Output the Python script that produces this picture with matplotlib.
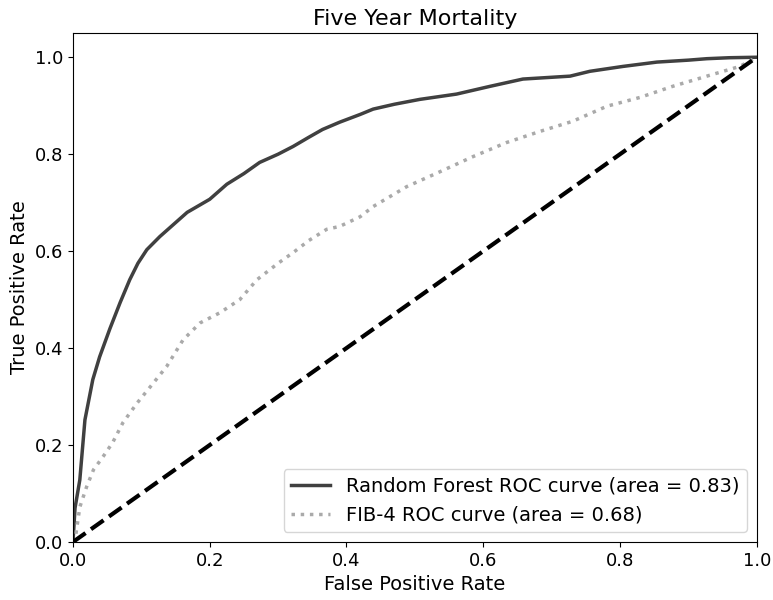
import numpy as np
import matplotlib
matplotlib.use("Agg")
import matplotlib.pyplot as plt

# ROC 曲線資料
rf_fpr = [0.0, 0.003, 0.01, 0.0175, 0.029, 0.039, 0.054, 0.069, 0.083, 0.095, 0.108,
          0.127, 0.147, 0.167, 0.2, 0.225, 0.25, 0.273, 0.3, 0.322, 0.345, 0.365,
          0.39, 0.42, 0.439, 0.47, 0.507, 0.561, 0.61, 0.658, 0.727, 0.756, 0.804,
          0.854, 0.9, 0.927, 0.96, 1.0]
rf_tpr = [0.0, 0.07, 0.128, 0.252, 0.335, 0.382, 0.44, 0.494, 0.541, 0.575, 0.603,
          0.63, 0.655, 0.68, 0.707, 0.738, 0.76, 0.783, 0.8, 0.816, 0.835, 0.851,
          0.866, 0.882, 0.893, 0.903, 0.913, 0.924, 0.94, 0.955, 0.961, 0.971, 0.981,
          0.99, 0.994, 0.997, 0.999, 1.0]

fib_fpr = [0.0, 0.003, 0.01, 0.02, 0.03, 0.044, 0.058, 0.073, 0.094, 0.113, 0.137,
           0.161, 0.186, 0.215, 0.244, 0.269, 0.3, 0.322, 0.345, 0.371, 0.39, 0.42,
           0.439, 0.488, 0.537, 0.585, 0.634, 0.683, 0.731, 0.781, 0.829, 0.877,
           0.927, 0.975, 1.0]
fib_tpr = [0.0, 0.004, 0.072, 0.114, 0.149, 0.176, 0.205, 0.246, 0.287, 0.32, 0.362,
           0.417, 0.452, 0.473, 0.5, 0.541, 0.575, 0.597, 0.622, 0.645, 0.651, 0.671,
           0.692, 0.733, 0.764, 0.795, 0.824, 0.847, 0.868, 0.899, 0.917, 0.94,
           0.961, 0.981, 1.0]

rf_auc = 0.83
fib_auc = 0.68

fig = plt.figure(figsize=(7.73, 6.0), dpi=100)
ax = fig.add_axes([0.0944, 0.0967, 0.8846, 0.8483])

ax.plot(rf_fpr, rf_tpr, color="#404040", lw=2.5,
        label="Random Forest ROC curve (area = %0.2f)" % rf_auc)
ax.plot(fib_fpr, fib_tpr, color="#aaaaaa", lw=2.5, linestyle=":",
        label="FIB-4 ROC curve (area = %0.2f)" % fib_auc)
ax.plot([0, 1], [0, 1], color="black", lw=3, linestyle="--")

ax.set_xlim(0.0, 1.0)
ax.set_ylim(0.0, 1.05)
ax.set_xticks(np.arange(0, 1.01, 0.2))
ax.set_yticks(np.arange(0, 1.01, 0.2))
ax.tick_params(labelsize=13)
ax.set_xlabel("False Positive Rate", fontsize=14)
ax.set_ylabel("True Positive Rate", fontsize=14)
ax.set_title("Five Year Mortality", fontsize=16)
ax.legend(loc="lower right", fontsize=14)

plt.savefig("out.png", dpi=100)
